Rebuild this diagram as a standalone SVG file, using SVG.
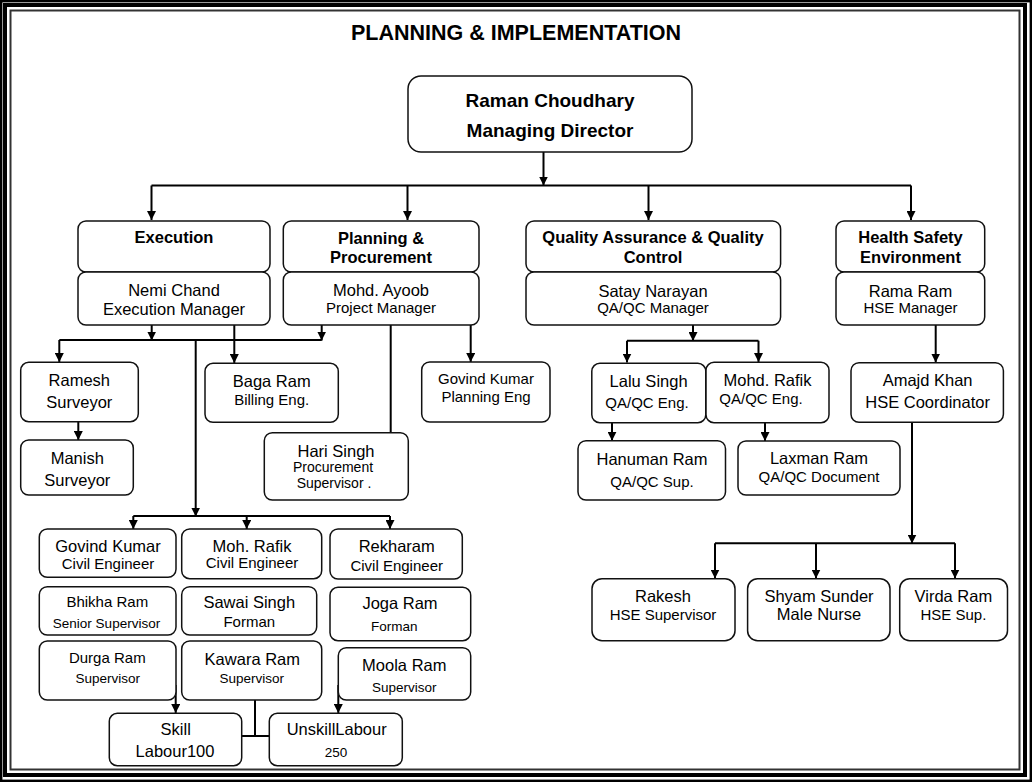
<svg xmlns="http://www.w3.org/2000/svg" width="1033" height="783" viewBox="0 0 1033 783">
<defs>
<marker id="ah" viewBox="0 0 10 10" refX="10" refY="5" markerWidth="9" markerHeight="9" markerUnits="userSpaceOnUse" orient="auto">
<path d="M0,0 L10,5 L0,10 z" fill="#000"/>
</marker>
<style>
.b{fill:#fff;stroke:#111;stroke-width:1.5}
text{font-family:"Liberation Sans",Arial,sans-serif;text-anchor:middle;fill:#000}
.h{font-weight:bold;font-size:16.5px}
.t{font-size:16.5px}
.s{font-size:15px}
.xs{font-size:13.5px}
.c line,.c path{stroke:#000;stroke-width:2;fill:none}
.a{marker-end:url(#ah)}
</style>
</defs>
<rect width="1033" height="783" fill="#fff"/>
<g id="frame" fill="none">
<rect x="1.2" y="1.2" width="1029.6" height="779.6" stroke="#000" stroke-width="2.4"/>
<rect x="5" y="5" width="1020" height="770" stroke="#000" stroke-width="4"/>
<rect x="10.5" y="10.5" width="1009" height="759" stroke="#333" stroke-width="2"/>
</g>
<text x="516" y="40" style="font-weight:bold;font-size:21.5px">PLANNING &amp; IMPLEMENTATION</text>

<g class="c" id="connectors">
<line class="a" x1="543.5" y1="152" x2="543.5" y2="185.5"/>
<line x1="151.5" y1="185.5" x2="911" y2="185.5"/>
<line class="a" x1="151.5" y1="185.5" x2="151.5" y2="220"/>
<line class="a" x1="407.5" y1="185.5" x2="407.5" y2="220"/>
<line class="a" x1="648.5" y1="185.5" x2="648.5" y2="220"/>
<line class="a" x1="911" y1="185.5" x2="911" y2="220"/>
<line class="a" x1="151.7" y1="325" x2="151.7" y2="340.5"/>
<line class="a" x1="321.7" y1="325" x2="321.7" y2="340.5"/>
<line x1="59.3" y1="340" x2="321.7" y2="340"/>
<line class="a" x1="59.3" y1="340" x2="59.3" y2="362"/>
<line class="a" x1="234.3" y1="325" x2="234.3" y2="363"/>
<line class="a" x1="195.7" y1="340" x2="195.7" y2="516.5"/>
<line x1="133.3" y1="516" x2="390" y2="516"/>
<line class="a" x1="133.3" y1="516" x2="133.3" y2="529"/>
<line class="a" x1="246.7" y1="516" x2="246.7" y2="529"/>
<line class="a" x1="390" y1="516" x2="390" y2="529"/>
<line class="a" x1="78.3" y1="422" x2="78.3" y2="440"/>
<line x1="390.7" y1="325" x2="390.7" y2="433"/>
<line class="a" x1="470.7" y1="325" x2="470.7" y2="362"/>
<line class="a" x1="693" y1="325" x2="693" y2="341"/>
<line x1="627" y1="340.7" x2="758.5" y2="340.7"/>
<line class="a" x1="627" y1="340.7" x2="627" y2="362.5"/>
<line class="a" x1="758.5" y1="340.7" x2="758.5" y2="362"/>
<line class="a" x1="612" y1="422.7" x2="612" y2="440.7"/>
<line class="a" x1="765" y1="422.7" x2="765" y2="441"/>
<line class="a" x1="935.7" y1="325" x2="935.7" y2="362.5"/>
<line class="a" x1="912" y1="422.3" x2="912" y2="543.5"/>
<line x1="715" y1="543.3" x2="955" y2="543.3"/>
<line class="a" x1="715" y1="543.3" x2="715" y2="578.5"/>
<line class="a" x1="816" y1="543.3" x2="816" y2="578.5"/>
<line class="a" x1="955" y1="543.3" x2="955" y2="578.5"/>
<line class="a" x1="175.7" y1="685" x2="175.7" y2="713"/>
<line class="a" x1="338.3" y1="685" x2="338.3" y2="713"/>
<line x1="255" y1="700" x2="255" y2="736"/>
<line x1="241.7" y1="736" x2="269.3" y2="736"/>
</g>

<g id="md"><rect class="b" x="408" y="76" width="284" height="76" rx="13"/>
<text x="550" y="106.5" style="font-weight:bold;font-size:19px">Raman Choudhary</text>
<text x="550" y="137" style="font-weight:bold;font-size:19px">Managing Director</text></g>

<g id="exec-h"><rect class="b" x="78" y="221" width="192" height="51" rx="8"/>
<text class="h" x="174" y="243">Execution</text></g>
<g id="exec-m"><rect class="b" x="78" y="272" width="192" height="53" rx="8"/>
<text class="t" x="174" y="296">Nemi Chand</text><text class="t" x="174" y="315">Execution Manager</text></g>

<g id="pp-h"><rect class="b" x="283.3" y="221" width="195.7" height="51" rx="8"/>
<text class="h" x="381" y="244">Planning &amp;</text><text class="h" x="381" y="262.7">Procurement</text></g>
<g id="pp-m"><rect class="b" x="283.3" y="272" width="195.7" height="53" rx="8"/>
<text class="t" x="381" y="296">Mohd. Ayoob</text><text class="s" x="381" y="312.7">Project Manager</text></g>

<g id="qa-h"><rect class="b" x="526" y="221" width="254.6" height="51" rx="8"/>
<text class="h" x="653" y="243.3">Quality Assurance &amp; Quality</text><text class="h" x="653" y="262.7">Control</text></g>
<g id="qa-m"><rect class="b" x="526" y="272" width="254.6" height="53" rx="8"/>
<text class="t" x="653" y="296.7">Satay Narayan</text><text class="s" x="653" y="312.7">QA/QC Manager</text></g>

<g id="hse-h"><rect class="b" x="836" y="221" width="148.7" height="51" rx="8"/>
<text class="h" x="910.5" y="243.3">Health Safety</text><text class="h" x="910.5" y="262.7">Environment</text></g>
<g id="hse-m"><rect class="b" x="836" y="272" width="148.7" height="53" rx="8"/>
<text class="t" x="910.5" y="296.7">Rama Ram</text><text class="s" x="910.5" y="312.7">HSE Manager</text></g>

<g id="ramesh"><rect class="b" x="20.7" y="362.3" width="117.6" height="59.4" rx="8"/>
<text class="t" x="79.3" y="386">Ramesh</text><text class="t" x="79.3" y="408">Surveyor</text></g>
<g id="manish"><rect class="b" x="20.7" y="440" width="112.6" height="55" rx="8"/>
<text class="t" x="77.3" y="464">Manish</text><text class="t" x="77.3" y="486">Surveyor</text></g>
<g id="baga"><rect class="b" x="205" y="363.3" width="133.3" height="59" rx="8"/>
<text class="t" x="271.7" y="387.3">Baga Ram</text><text class="s" x="271.7" y="405">Billing Eng.</text></g>
<g id="govind-p"><rect class="b" x="421.7" y="362" width="128.3" height="60" rx="8"/>
<text class="s" x="486" y="384">Govind Kumar</text><text class="s" x="486" y="401.7">Planning Eng</text></g>
<g id="hari"><rect class="b" x="264.3" y="432.7" width="144" height="67.3" rx="8"/>
<text class="t" x="336" y="456.7">Hari Singh</text><text style="font-size:14px" x="333" y="472.3">Procurement</text><text style="font-size:14px" x="334" y="488.3">Supervisor .</text></g>

<g id="lalu"><rect class="b" x="591.8" y="363.3" width="114" height="59.4" rx="8"/>
<text class="t" x="648.6" y="386.7">Lalu Singh</text><text class="s" x="647" y="407.7">QA/QC Eng.</text></g>
<g id="rafik-qa"><rect class="b" x="706" y="362.3" width="123" height="60.4" rx="8"/>
<text class="t" x="767.5" y="385.7">Mohd. Rafik</text><text class="s" x="761" y="404">QA/QC Eng.</text></g>
<g id="hanuman"><rect class="b" x="578" y="440.7" width="147.5" height="59.3" rx="8"/>
<text class="t" x="652" y="465">Hanuman Ram</text><text class="s" x="652" y="486.7">QA/QC Sup.</text></g>
<g id="laxman"><rect class="b" x="738" y="441" width="162" height="54" rx="8"/>
<text class="t" x="819" y="464.3">Laxman Ram</text><text class="s" x="819" y="481.7">QA/QC Document</text></g>
<g id="amajd"><rect class="b" x="851" y="362.7" width="152.4" height="59.6" rx="8"/>
<text class="t" x="927.6" y="385.7">Amajd Khan</text><text class="t" x="927.6" y="407.7">HSE Coordinator</text></g>

<g id="rakesh"><rect class="b" x="592" y="578.7" width="143" height="62" rx="10"/>
<text class="t" x="663" y="601.7">Rakesh</text><text class="s" x="663" y="620">HSE Supervisor</text></g>
<g id="shyam"><rect class="b" x="747.6" y="578.7" width="142.4" height="62" rx="10"/>
<text class="t" x="819" y="601.7">Shyam Sunder</text><text class="t" x="819" y="620">Male Nurse</text></g>
<g id="virda"><rect class="b" x="899.7" y="578.7" width="107.8" height="62" rx="10"/>
<text class="t" x="953.4" y="601.7">Virda Ram</text><text class="s" x="953.4" y="620">HSE Sup.</text></g>

<g id="govind-c"><rect class="b" x="39.3" y="529" width="136.7" height="48.3" rx="8"/>
<text class="t" x="108" y="551.7">Govind Kumar</text><text class="s" x="108" y="569">Civil Engineer</text></g>
<g id="rafik-c"><rect class="b" x="181.7" y="529" width="140" height="49.7" rx="8"/>
<text class="t" x="252" y="551.7">Moh. Rafik</text><text class="s" x="252" y="568.3">Civil Engineer</text></g>
<g id="rekharam"><rect class="b" x="330" y="529" width="132.3" height="50" rx="8"/>
<text class="t" x="396.7" y="551.7">Rekharam</text><text class="s" x="396.7" y="571">Civil Engineer</text></g>
<g id="bhikha"><rect class="b" x="39.3" y="586.7" width="136.7" height="48.3" rx="8"/>
<text class="s" x="107.3" y="607.3">Bhikha Ram</text><text class="xs" x="106.5" y="627.7">Senior Supervisor</text></g>
<g id="sawai"><rect class="b" x="181.7" y="586.7" width="135" height="48.3" rx="8"/>
<text class="t" x="249.3" y="608.3">Sawai Singh</text><text class="s" x="249.3" y="626.7">Forman</text></g>
<g id="joga"><rect class="b" x="330" y="587.3" width="140.7" height="53.4" rx="8"/>
<text class="t" x="400" y="609.3">Joga Ram</text><text class="xs" x="394.3" y="630.7">Forman</text></g>
<g id="durga"><rect class="b" x="39.3" y="641" width="136.7" height="59" rx="8"/>
<text class="s" x="107.3" y="662.7">Durga Ram</text><text class="xs" x="107.7" y="683.3">Supervisor</text></g>
<g id="kawara"><rect class="b" x="181.7" y="641" width="140" height="59" rx="8"/>
<text class="t" x="252.3" y="665">Kawara Ram</text><text class="xs" x="251.7" y="682.7">Supervisor</text></g>
<g id="moola"><rect class="b" x="338.3" y="647.7" width="132.4" height="52.3" rx="8"/>
<text class="t" x="404.3" y="670.7">Moola Ram</text><text class="xs" x="404.3" y="691.7">Supervisor</text></g>
<g id="skill"><rect class="b" x="109.3" y="713.3" width="132.4" height="52.4" rx="8"/>
<text class="t" x="175.7" y="735">Skill</text><text class="t" x="175" y="757.3">Labour100</text></g>
<g id="unskill"><rect class="b" x="269.3" y="713.3" width="133" height="52.4" rx="8"/>
<text class="t" x="336.7" y="735">UnskillLabour</text><text class="xs" x="336" y="756.7">250</text></g>
</svg>
